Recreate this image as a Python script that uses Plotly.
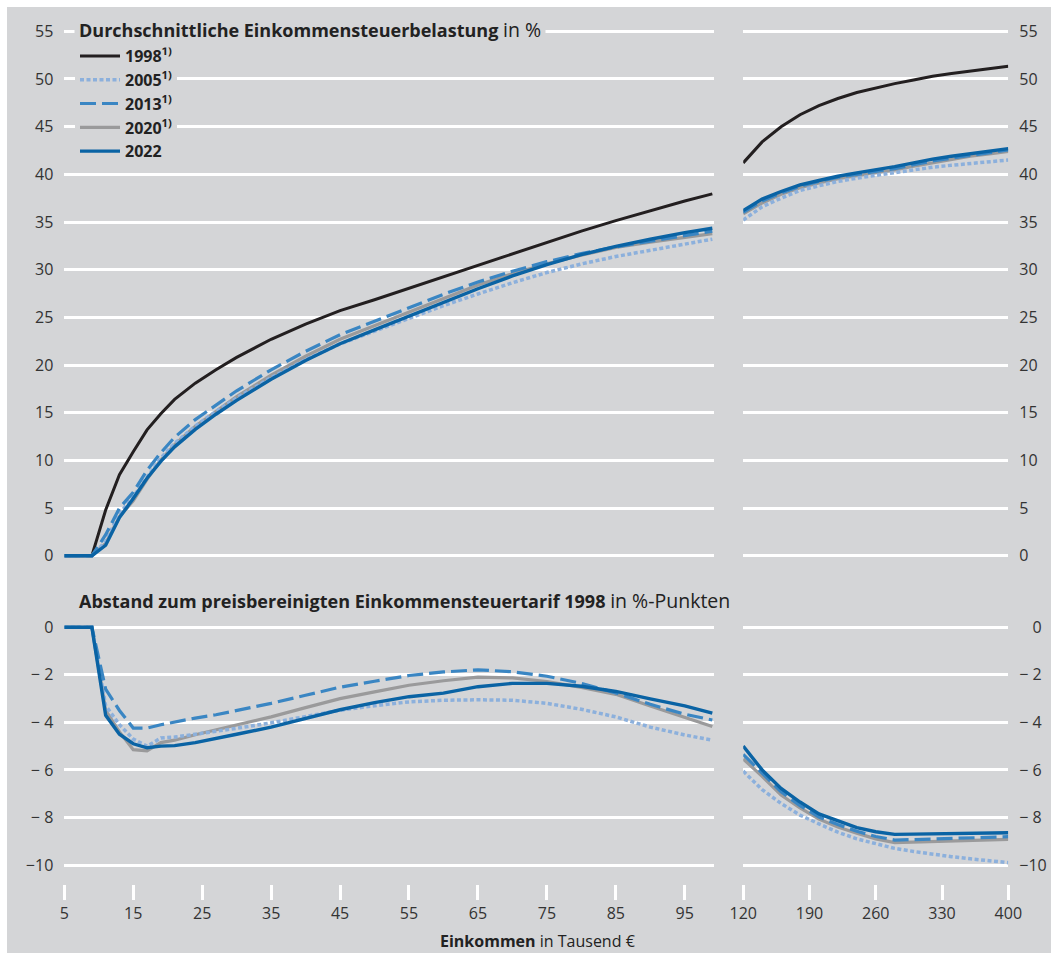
import plotly.graph_objects as go

W, H = 1051, 953
BG = "#d4d5d7"
TXT = "#333333"
FONT = "Open Sans"

# ---------------- data ----------------
x_left = [5, 9, 11, 13, 15, 17, 19, 21, 24, 27, 30, 35, 40, 45, 50, 55, 60, 65, 70, 75, 80, 85, 90, 95, 99]
x_right = [120, 140, 160, 180, 200, 220, 240, 260, 280, 300, 320, 340, 360, 380, 400]

# Durchschnittliche Einkommensteuerbelastung in %
top_1998_l = [0, 0, 4.8, 8.5, 10.9, 13.2, 14.9, 16.4, 18.1, 19.5, 20.8, 22.7, 24.3, 25.7, 26.85, 28.05, 29.3, 30.5, 31.7, 32.9, 34.05, 35.15, 36.2, 37.2, 37.95]
top_2005_l = [0, 0, 1.5, 4.4, 6.2, 8.2, 10.24, 11.78, 13.6, 15.12, 16.55, 18.68, 20.56, 22.21, 23.55, 24.91, 26.23, 27.45, 28.63, 29.7, 30.6, 31.38, 32.0, 32.67, 33.2]
top_2013_l = [0, 0, 2.2, 5.0, 6.66, 8.96, 10.8, 12.42, 14.28, 15.82, 17.3, 19.5, 21.44, 23.18, 24.58, 26.02, 27.42, 28.71, 29.83, 30.84, 31.69, 32.39, 32.96, 33.54, 34.05]
top_2020_l = [0, 0, 1.3, 4.1, 5.75, 8.0, 10.05, 11.65, 13.58, 15.18, 16.7, 18.93, 20.92, 22.7, 24.13, 25.61, 27.05, 28.4, 29.57, 30.62, 31.52, 32.33, 32.89, 33.4, 33.78]
top_2022_l = [0, 0, 1.1, 4.0, 6.0, 8.13, 9.9, 11.42, 13.25, 14.84, 16.3, 18.5, 20.47, 22.23, 23.68, 25.13, 26.53, 28.0, 29.34, 30.54, 31.57, 32.45, 33.19, 33.89, 34.34]

top_1998_r = [41.2, 43.4, 44.98, 46.25, 47.2, 47.95, 48.58, 49.05, 49.51, 49.9, 50.29, 50.58, 50.82, 51.1, 51.34]
top_2005_r = [35.2, 36.6, 37.5, 38.3, 38.8, 39.25, 39.6, 39.9, 40.2, 40.45, 40.75, 40.95, 41.15, 41.35, 41.5]
top_2013_r = [36.0, 37.2, 38.05, 38.75, 39.25, 39.7, 40.0, 40.3, 40.6, 41.0, 41.4, 41.7, 42.0, 42.3, 42.55]
top_2020_r = [35.85, 37.0, 37.9, 38.6, 39.1, 39.55, 39.85, 40.15, 40.45, 40.85, 41.2, 41.55, 41.9, 42.15, 42.4]
top_2022_r = [36.2, 37.4, 38.2, 38.9, 39.35, 39.8, 40.15, 40.45, 40.8, 41.2, 41.6, 41.9, 42.15, 42.45, 42.7]

# Abstand zum preisbereinigten Einkommensteuertarif 1998 in %-Punkten
dif_2005_l = [0, 0, -3.3, -4.1, -4.7, -5.0, -4.66, -4.62, -4.5, -4.38, -4.25, -4.02, -3.74, -3.49, -3.3, -3.14, -3.07, -3.05, -3.07, -3.2, -3.45, -3.77, -4.2, -4.53, -4.75]
dif_2013_l = [0, 0, -2.6, -3.5, -4.24, -4.24, -4.1, -3.98, -3.82, -3.68, -3.5, -3.2, -2.86, -2.52, -2.27, -2.03, -1.88, -1.79, -1.87, -2.06, -2.36, -2.76, -3.24, -3.66, -3.9]
dif_2020_l = [0, 0, -3.5, -4.4, -5.15, -5.2, -4.85, -4.75, -4.52, -4.32, -4.1, -3.77, -3.38, -3.0, -2.72, -2.44, -2.25, -2.1, -2.13, -2.28, -2.53, -2.82, -3.31, -3.8, -4.17]
dif_2022_l = [0, 0, -3.7, -4.5, -4.9, -5.07, -5.0, -4.98, -4.85, -4.66, -4.5, -4.2, -3.83, -3.47, -3.17, -2.92, -2.77, -2.5, -2.36, -2.36, -2.48, -2.7, -3.01, -3.31, -3.61]

dif_2005_r = [-6.05, -6.83, -7.41, -7.9, -8.27, -8.62, -8.9, -9.1, -9.3, -9.43, -9.55, -9.65, -9.74, -9.82, -9.9]
dif_2013_r = [-5.35, -6.14, -6.92, -7.5, -7.98, -8.3, -8.58, -8.8, -8.95, -8.93, -8.9, -8.88, -8.86, -8.83, -8.81]
dif_2020_r = [-5.54, -6.27, -7.06, -7.6, -8.07, -8.4, -8.66, -8.9, -9.06, -9.04, -9.02, -9.0, -8.97, -8.95, -8.92]
dif_2022_r = [-5.0, -6.0, -6.78, -7.35, -7.85, -8.15, -8.43, -8.6, -8.71, -8.7, -8.69, -8.68, -8.67, -8.65, -8.64]

top_ticks = [0, 5, 10, 15, 20, 25, 30, 35, 40, 45, 50, 55]
bot_ticks = [0, -2, -4, -6, -8, -10]
bot_ticktext = ["0", "\u2212 2", "\u2212 4", "\u2212 6", "\u2212 8", "\u221210"]
bot_ticktext_r = ["<span style='color:rgba(0,0,0,0)'>\u2212 </span>0", "\u2212 2", "\u2212 4", "\u2212 6", "\u2212 8", "\u221210"]
xl_ticks = [5, 15, 25, 35, 45, 55, 65, 75, 85, 95]
xr_ticks = [120, 190, 260, 330, 400]

# ---------------- styles ----------------
series = [
    # name, legend label, color, dash, width, rank, top_l, top_r, dif_l, dif_r
    ("1998", "1998<sup>1)</sup>", "#231f20", "solid", 3, 1, top_1998_l, top_1998_r, None, None),
    ("2020", "2020<sup>1)</sup>", "#9a9a9b", "solid", 3.2, 4, top_2020_l, top_2020_r, dif_2020_l, dif_2020_r),
    ("2005", "2005<sup>1)</sup>", "#8cb0dc", "4px,2.5px", 3.5, 2, top_2005_l, top_2005_r, dif_2005_l, dif_2005_r),
    ("2013", "2013<sup>1)</sup>", "#3a86c3", "16px,6px", 3.2, 3, top_2013_l, top_2013_r, dif_2013_l, dif_2013_r),
    ("2022", "2022", "#0a63a4", "solid", 3.4, 5, top_2022_l, top_2022_r, dif_2022_l, dif_2022_r),
]

fig = go.Figure()
for name, label, color, dash, width, rank, tl, tr, dl, dr in series:
    line = dict(color=color, dash=dash, width=width)
    fig.add_trace(go.Scatter(x=x_left, y=tl, xaxis="x3", yaxis="y3", mode="lines", line=line,
                             name=label, legendgroup=name, legendrank=rank, showlegend=True,
                             hoverinfo="skip"))
    fig.add_trace(go.Scatter(x=x_right, y=tr, xaxis="x4", yaxis="y4", mode="lines", line=line,
                             name=label, legendgroup=name, showlegend=False, hoverinfo="skip"))
    if dl is not None:
        fig.add_trace(go.Scatter(x=x_left, y=dl, xaxis="x", yaxis="y", mode="lines", line=line,
                                 name=label, legendgroup=name, showlegend=False, hoverinfo="skip"))
        fig.add_trace(go.Scatter(x=x_right, y=dr, xaxis="x2", yaxis="y2", mode="lines", line=line,
                                 name=label, legendgroup=name, showlegend=False, hoverinfo="skip"))


def px_x(p):
    return p / W


def px_y(p):
    return 1 - p / H


dom_l = [px_x(64.3), px_x(713.7)]
dom_r = [px_x(743.2), px_x(1008.3)]
dom_top = [px_y(574.8), px_y(17.0)]
dom_bot = [px_y(876.9), px_y(613.0)]

tickfont = dict(family=FONT, size=16, color=TXT)

xcommon = dict(showgrid=False, zeroline=False, showline=False, fixedrange=True, automargin=False)
ycommon = dict(showgrid=True, gridcolor="white", gridwidth=2.5, zeroline=False, showline=False,
               tickfont=tickfont, ticks="", ticklabelstandoff=10, fixedrange=True,
               automargin=False, tickmode="array")
fig.update_layout(
    xaxis=dict(domain=dom_l, range=[5, 99.2], anchor="free", position=px_y(884),
               tickmode="array", tickvals=xl_ticks, ticks="outside", ticklen=15, tickwidth=2.5,
               tickcolor="white", tickfont=tickfont, **xcommon),
    xaxis2=dict(domain=dom_r, range=[120, 400], anchor="free", position=px_y(884),
                tickmode="array", tickvals=xr_ticks, ticks="outside", ticklen=15, tickwidth=2.5,
                tickcolor="white", tickfont=tickfont, **xcommon),
    xaxis3=dict(domain=dom_l, range=[5, 99.2], anchor="y3", showticklabels=False, **xcommon),
    xaxis4=dict(domain=dom_r, range=[120, 400], anchor="y4", showticklabels=False, **xcommon),
    yaxis=dict(domain=dom_bot, range=[-10.5, 0.6], anchor="x",
               tickvals=bot_ticks, ticktext=bot_ticktext, **ycommon),
    yaxis2=dict(domain=dom_bot, range=[-10.5, 0.6], anchor="x2", side="right",
                tickvals=bot_ticks, ticktext=bot_ticktext_r, **ycommon),
    yaxis3=dict(domain=dom_top, range=[-2, 56.5], anchor="x3", tickvals=top_ticks, **ycommon),
    yaxis4=dict(domain=dom_top, range=[-2, 56.5], anchor="x4", side="right",
                tickvals=top_ticks, **ycommon),
)

fig.update_layout(
    width=W, height=H,
    margin=dict(l=0, r=0, t=0, b=0, pad=0),
    paper_bgcolor="white",
    plot_bgcolor="rgba(0,0,0,0)",
    font=dict(family=FONT, size=16, color=TXT),
    showlegend=True,
    legend=dict(x=px_x(75), y=px_y(39), xanchor="left", yanchor="top", bgcolor=BG,
                borderwidth=0, itemwidth=40,
                font=dict(family=FONT, size=16, color="#222222", weight="bold"),
                tracegroupgap=0, itemclick=False, itemdoubleclick=False),
    shapes=[dict(type="rect", xref="paper", yref="paper", x0=px_x(7), x1=1, y0=0, y1=px_y(7),
                 fillcolor=BG, line=dict(width=0), layer="below")],
    annotations=[
        dict(text="<b>Durchschnittliche Einkommensteuerbelastung</b> <span style='font-size:19.5px'>in %</span>",
             xref="paper", yref="paper",
             x=px_x(74), y=px_y(29), xanchor="left", yanchor="middle", showarrow=False,
             bgcolor=BG, borderpad=4, font=dict(family=FONT, size=18, color="#222222")),
        dict(text="<b>Abstand zum preisbereinigten Einkommensteuertarif 1998</b> <span style='font-size:19.5px'>in %-Punkten</span>",
             xref="paper", yref="paper", x=px_x(74), y=px_y(600), xanchor="left", yanchor="middle",
             showarrow=False, bgcolor=BG, borderpad=4, font=dict(family=FONT, size=18, color="#222222")),
        dict(text="<b>Einkommen</b> in Tausend \u20ac", xref="paper", yref="paper",
             x=px_x(537), y=0, xanchor="center", yanchor="bottom", showarrow=False, borderpad=0,
             font=dict(family=FONT, size=16, color="#222222")),
    ],
)

fig.write_html("out.html", config={"displayModeBar": False},
               post_script="document.body.style.margin='0px';document.body.style.padding='0px';document.body.style.overflow='hidden';")
